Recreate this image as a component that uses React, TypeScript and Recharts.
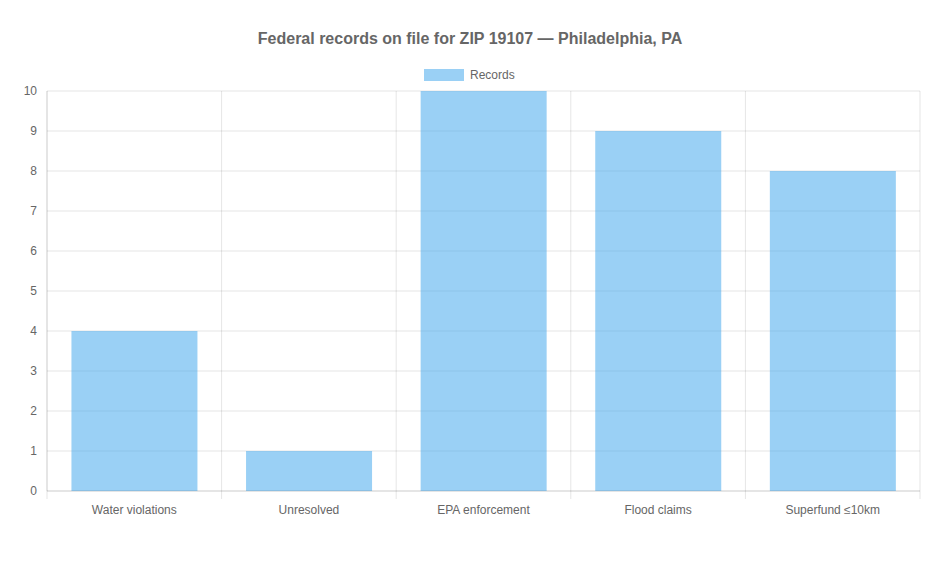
import React from "react";
import { BarChart, Bar, XAxis, YAxis, CartesianGrid } from "recharts";

const categories = ["Water violations", "Unresolved", "EPA enforcement", "Flood claims", "Superfund ≤10km"];
const recordValues = [4, 1, 10, 9, 8];
const yTicks = [0, 1, 2, 3, 4, 5, 6, 7, 8, 9, 10];
const titleText = "Federal records on file for ZIP 19107 — Philadelphia, PA";
const seriesName = "Records";

const data = categories.map((c, i) => ({ name: c, value: recordValues[i] }));

const W = 940;
const H = 580;
const MARGIN = { top: 91, right: 20, bottom: 59, left: 0 };
const Y_WIDTH = 47;
const FONT = "'Liberation Sans', Arial, Helvetica, sans-serif";
const TEXT = "#666";
const GRID = "rgba(0,0,0,0.1)";
const FILL = "rgba(54,162,235,0.5)";

const plotWidth = W - MARGIN.left - MARGIN.right - Y_WIDTH;
const band = plotWidth / categories.length;

const XTick = (props: any) => {
  const { x, y, payload, index } = props;
  const axisY = y - 13;
  const left = x - band / 2;
  return (
    <g>
      <line x1={left} x2={left} y1={axisY} y2={axisY + 8} stroke={GRID} />
      {index === categories.length - 1 && (
        <line x1={x + band / 2} x2={x + band / 2} y1={axisY} y2={axisY + 8} stroke={GRID} />
      )}
      <text x={x} y={y + 10} textAnchor="middle" fill={TEXT} fontSize={12} fontFamily={FONT}>
        {payload.value}
      </text>
    </g>
  );
};

export default function App() {
  return (
    <div style={{ position: "absolute", left: 0, top: 0, width: W, height: H, background: "#fff" }}>
      <div
        style={{
          position: "absolute",
          left: 0,
          top: 29,
          width: W,
          textAlign: "center",
          fontFamily: FONT,
          fontWeight: "bold",
          fontSize: 16,
          color: TEXT,
          lineHeight: "20px",
        }}
      >
        {titleText}
      </div>
      <div
        style={{
          position: "absolute",
          left: 424,
          top: 68,
          display: "flex",
          alignItems: "center",
          fontFamily: FONT,
          fontSize: 12,
          color: TEXT,
        }}
      >
        <div style={{ width: 40, height: 12, background: FILL, marginRight: 6 }} />
        <span>{seriesName}</span>
      </div>
      <BarChart width={W} height={H} data={data} margin={MARGIN} barCategoryGap="14%">
        <CartesianGrid
          stroke={GRID}
          verticalCoordinatesGenerator={({ offset }: any) =>
            categories.map((_, i) => offset.left + (i * offset.width) / categories.length).concat([offset.left + offset.width])
          }
        />
        <XAxis
          dataKey="name"
          stroke={GRID}
          tickLine={false}
          tickSize={8}
          tickMargin={5}
          height={30}
          tick={<XTick />}
          interval={0}
        />
        <YAxis
          width={Y_WIDTH}
          domain={[0, 10]}
          ticks={yTicks}
          interval={0}
          stroke={GRID}
          tickLine={false}
          tickSize={10}
          tickMargin={0}
          tick={{ fill: TEXT, fontSize: 12, fontFamily: FONT }}
        />
        <Bar dataKey="value" name={seriesName} fill={FILL} isAnimationActive={false} />
      </BarChart>
    </div>
  );
}
